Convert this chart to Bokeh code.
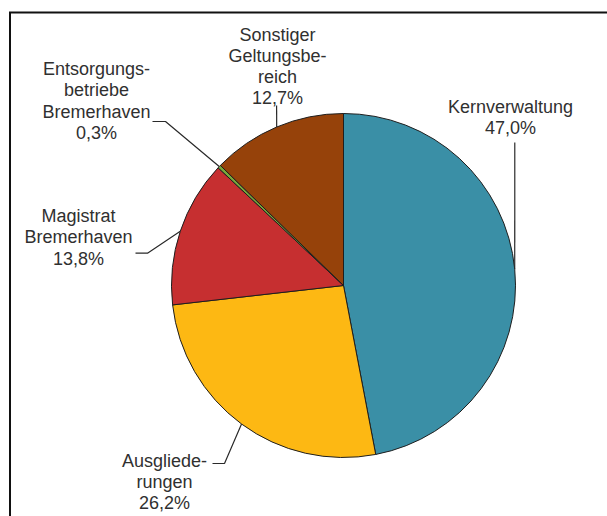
import numpy as np
from bokeh.plotting import figure
from bokeh.models import Range1d, ColumnDataSource
from bokeh.core.properties import value
from bokeh.embed import file_html
from bokeh.resources import INLINE

# ---- data ----
categories = ["Kernverwaltung", "Ausgliede-\nrungen", "Magistrat\nBremerhaven",
              "Entsorgungs-\nbetriebe\nBremerhaven", "Sonstiger\nGeltungsbe-\nreich"]
shares = [47.0, 26.2, 13.8, 0.3, 12.7]
colors = ["#3a8fa6", "#fdb813", "#c62f30", "#7aa83a", "#96420a"]

# ---- layout (page pixels, y downwards) ----
W, H = 607, 516
PAGE_X0, PAGE_Y0 = 0, 0
cx_page, cy_page, R = 343, 285, 172
label_pos = [(510, 106), (164, 460), (78, 215.5), (96, 68.5), (277, 34)]
elbows = [[(514.3, 142)], [(224, 463), (212, 463)], [(147, 252.7), (135, 252.7)],
          [(165, 121), (152, 121)], [(276.1, 105)]]
LINE_H = 21.3
FONT = "Liberation Sans"
FRAME_LEFT, FRAME_TOP = 9.5, 12


def Y(page_y):
    return PAGE_Y0 + H - page_y


p = figure(width=W, height=H, x_range=Range1d(PAGE_X0, PAGE_X0 + W),
           y_range=Range1d(0, H), output_backend="svg", toolbar_location=None,
           x_axis_location=None, y_axis_location=None, min_border=0)
p.grid.visible = False
p.outline_line_color = None
p.background_fill_color = "white"

vals = np.array(shares, dtype=float)
cum = np.concatenate([[0], np.cumsum(vals)]) / vals.sum()
start = np.pi / 2 - 2 * np.pi * cum[:-1]
end = np.pi / 2 - 2 * np.pi * cum[1:]
mid = (start + end) / 2

src = ColumnDataSource(dict(start=start, end=end, color=colors))
p.wedge(x=cx_page, y=Y(cy_page), radius=R, start_angle="start", end_angle="end",
        direction="clock", fill_color="color", line_color="#1e1e1e", line_width=1,
        source=src)

# leader lines
xs, ys = [], []
for a, el in zip(mid, elbows):
    ex = cx_page + R * np.cos(a)
    ey = Y(cy_page) + R * np.sin(a)
    lx = [ex] + [e[0] for e in el]
    ly = [ey] + [Y(e[1]) for e in el]
    xs.append(lx)
    ys.append(ly)
p.multi_line(xs=xs, ys=ys, line_color="#2a2a2a", line_width=1.2)

# labels
tx, ty, tt = [], [], []
for cat, v, (lx, ly) in zip(categories, shares, label_pos):
    lines = cat.split("\n") + [f"{v:.1f}".replace(".", ",") + "%"]
    for i, t in enumerate(lines):
        tx.append(lx)
        ty.append(Y(ly + i * LINE_H))
        tt.append(t)
p.text(x=tx, y=ty, text=tt, text_font=value(FONT), text_font_size="18px",
       text_align="center", text_baseline="middle", text_color="#303030")

# chart frame (only top and left edges fall inside the window)
p.line(x=[FRAME_LEFT, FRAME_LEFT, PAGE_X0 + W + 5],
       y=[-5, Y(FRAME_TOP), Y(FRAME_TOP)], line_color="#111111", line_width=2,
       line_join="miter")

open("out.html", "w").write(file_html(p, INLINE))
